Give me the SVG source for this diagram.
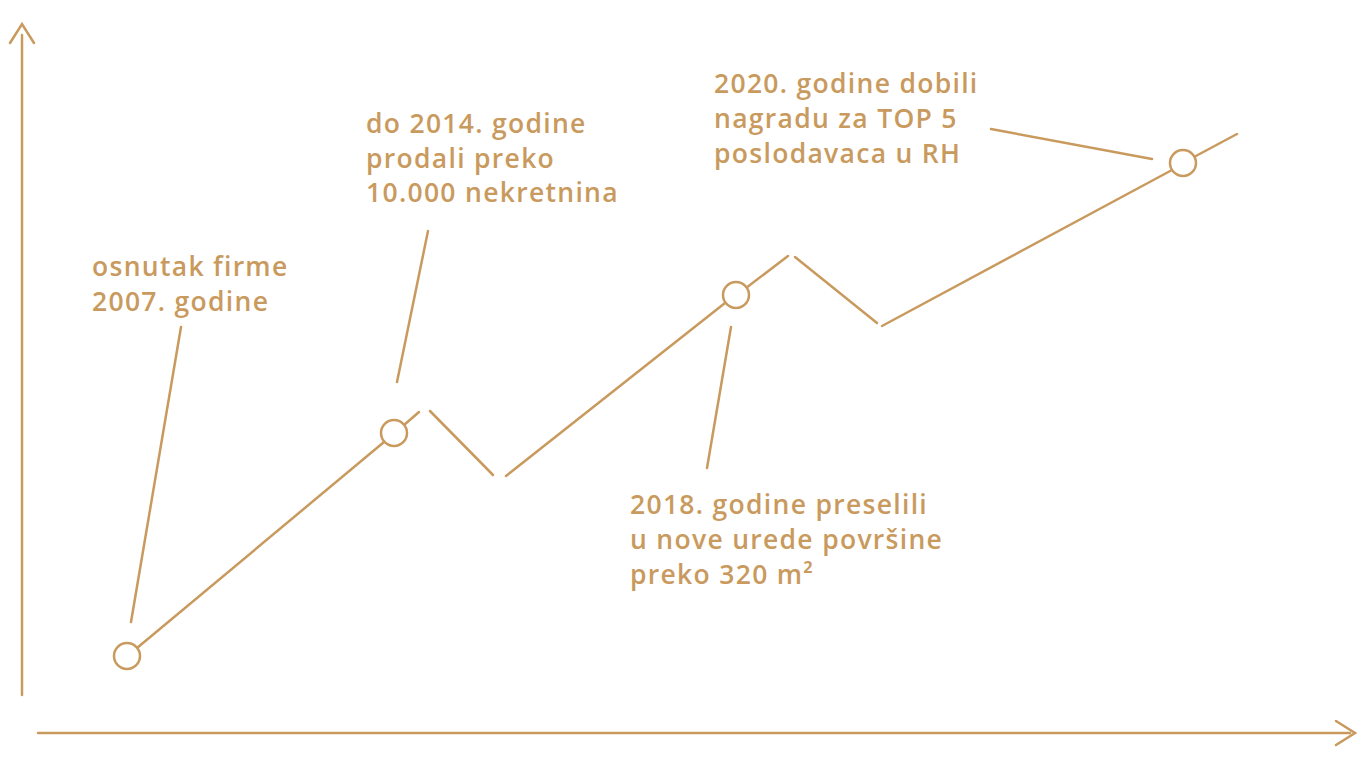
<svg xmlns="http://www.w3.org/2000/svg" width="1366" height="768" viewBox="0 0 1366 768">
<style>
.ln{stroke:#C99A5E;stroke-width:2.5;fill:none;stroke-linecap:round}
.nd{stroke:#C99A5E;stroke-width:2.5;fill:#fff}
.tx{font-family:"Open Sans","Lato",sans-serif;font-size:26.5px;font-weight:600;letter-spacing:1.3px;fill:#C99A5E}
</style>
<rect width="1366" height="768" fill="#fff"/>
<g id="axes">
<path class="ln" d="M22,35 V695 M10,43 L22,24 L34,43"/>
<path class="ln" d="M38,733 H1350 M1336,721 L1355,733 L1336,745"/>
</g>
<g id="connectors">
<path class="ln" d="M137,648 L384,442"/>
<path class="ln" d="M404,425 L419,412"/>
<path class="ln" d="M430,411 L493,475"/>
<path class="ln" d="M506,476 L725,303"/>
<path class="ln" d="M746,288 L788,256"/>
<path class="ln" d="M795,257 L877,323"/>
<path class="ln" d="M882,326 L1172,170"/>
<path class="ln" d="M1194,157 L1237,134"/>
<path class="ln" d="M131,622 L181,327"/>
<path class="ln" d="M397,382 L428,231"/>
<path class="ln" d="M707,468 L731,327"/>
<path class="ln" d="M991,129 L1152,159"/>
</g>
<g id="n1"><circle class="nd" cx="127" cy="656" r="13"/><text class="tx" x="92" y="276">osnutak firme</text><text class="tx" x="92" y="311">2007. godine</text></g>
<g id="n2"><circle class="nd" cx="394" cy="433" r="13"/><text class="tx" x="366" y="133">do 2014. godine</text><text class="tx" x="366" y="168">prodali preko</text><text class="tx" x="366" y="202">10.000 nekretnina</text></g>
<g id="n3"><circle class="nd" cx="736" cy="295" r="13"/><text class="tx" x="630" y="514">2018. godine preselili</text><text class="tx" x="630" y="549">u nove urede površine</text><text class="tx" x="630" y="584">preko 320 m²</text></g>
<g id="n4"><circle class="nd" cx="1183" cy="163" r="13"/><text class="tx" x="714" y="93">2020. godine dobili</text><text class="tx" x="714" y="128">nagradu za TOP 5</text><text class="tx" x="714" y="163">poslodavaca u RH</text></g>
</svg>
